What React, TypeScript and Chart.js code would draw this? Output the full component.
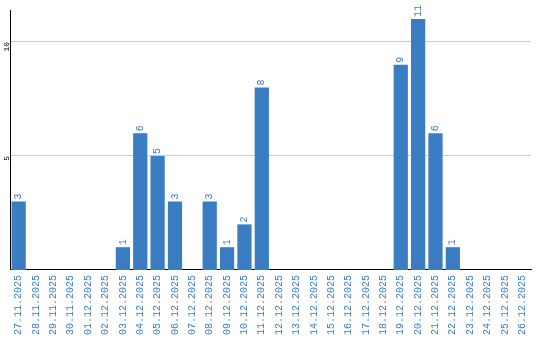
import React, { useEffect, useRef } from "react";
import { Chart, registerables } from "chart.js";

Chart.register(...registerables);

const categories = [
  "27.11.2025", "28.11.2025", "29.11.2025", "30.11.2025", "01.12.2025", "02.12.2025",
  "03.12.2025", "04.12.2025", "05.12.2025", "06.12.2025", "07.12.2025", "08.12.2025",
  "09.12.2025", "10.12.2025", "11.12.2025", "12.12.2025", "13.12.2025", "14.12.2025",
  "15.12.2025", "16.12.2025", "17.12.2025", "18.12.2025", "19.12.2025", "20.12.2025",
  "21.12.2025", "22.12.2025", "23.12.2025", "24.12.2025", "25.12.2025", "26.12.2025",
];
const values = [3, 0, 0, 0, 0, 0, 1, 6, 5, 3, 0, 3, 1, 2, 8, 0, 0, 0, 0, 0, 0, 0, 9, 11, 6, 1, 0, 0, 0, 0];
const yTicks = [5, 10];

const BLUE = "#3b7dc3";
const MONO = "'Liberation Mono', monospace";

const labelPlugin = {
  id: "barLabels",
  afterDatasetsDraw(chart: any) {
    const ctx = chart.ctx;
    const meta = chart.getDatasetMeta(0);
    ctx.save();
    ctx.fillStyle = BLUE;
    ctx.font = `10px ${MONO}`;
    ctx.textAlign = "left";
    ctx.textBaseline = "middle";
    meta.data.forEach((bar: any, i: number) => {
      const v = values[i];
      if (!v) return;
      ctx.save();
      ctx.translate(bar.x, bar.y - 2);
      ctx.rotate(-Math.PI / 2);
      ctx.fillText(String(v), 0, 0);
      ctx.restore();
    });
    ctx.restore();
  },
};

export default function App() {
  const ref = useRef<HTMLCanvasElement>(null);
  useEffect(() => {
    document.body.style.margin = "0";
    const chart = new Chart(ref.current!, {
      type: "bar",
      data: {
        labels: categories,
        datasets: [
          {
            data: values,
            backgroundColor: BLUE,
            categoryPercentage: 1,
            barPercentage: 0.82,
          },
        ],
      },
      options: {
        animation: false,
        responsive: false,
        layout: { padding: { top: 10, right: 9, left: 0, bottom: 0 } },
        plugins: { legend: { display: false }, tooltip: { enabled: false } },
        scales: {
          x: {
            grid: { display: false, drawTicks: false },
            border: { color: "#000", width: 1 },
            ticks: {
              color: BLUE,
              font: { family: MONO, size: 10 },
              minRotation: 90,
              maxRotation: 90,
              padding: 5,
              autoSkip: false,
            },
          },
          y: {
            min: 0,
            max: 11.4,
            afterBuildTicks: (s: any) => {
              s.ticks = yTicks.map((v) => ({ value: v }));
            },
            afterFit: (s: any) => {
              s.width = 10;
            },
            grid: { color: "#cccccc", drawTicks: false },
            border: { color: "#000", width: 1 },
            ticks: {
              color: "#000",
              font: { family: MONO, size: 8 },
              minRotation: 90,
              maxRotation: 90,
              padding: 3,
            },
          },
        },
      },
      plugins: [labelPlugin],
    });
    return () => chart.destroy();
  }, []);
  return (
    <div style={{ position: "absolute", left: 0, top: 0, width: 540, height: 340 }}>
      <canvas ref={ref} width={540} height={340} />
    </div>
  );
}
